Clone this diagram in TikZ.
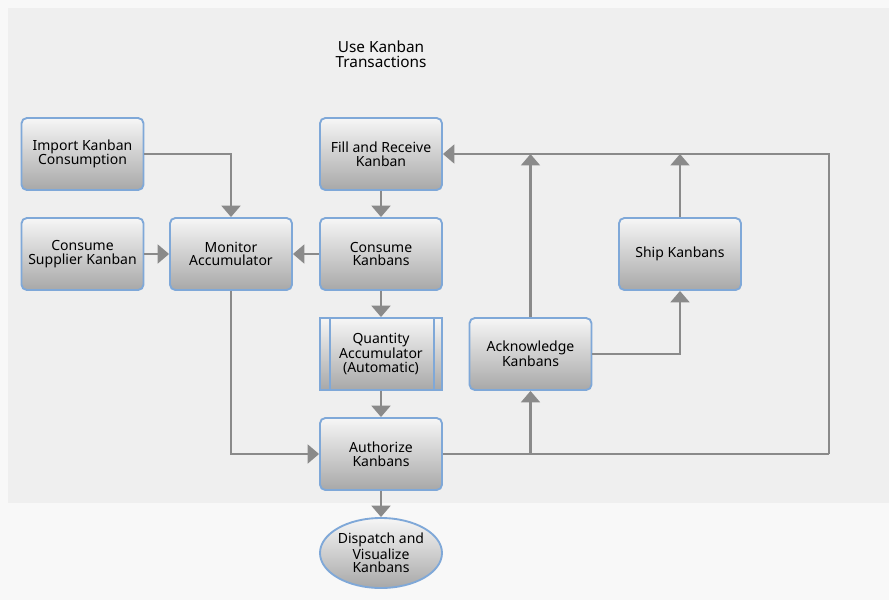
\documentclass[tikz,border=0pt]{standalone}
\usepackage{fontspec}
\setmainfont{Noto Sans}
\usetikzlibrary{arrows.meta,shapes.geometric,calc}
\definecolor{bgout}{HTML}{F8F8F8}
\definecolor{bgin}{HTML}{EFEFEF}
\definecolor{edgecol}{HTML}{7FA8D8}
\definecolor{conncol}{HTML}{8A8A8A}
\definecolor{topc}{HTML}{F6F6F6}
\definecolor{botc}{HTML}{A8A8A8}
\tikzset{
  box/.style={draw=edgecol, line width=1.4pt, rounded corners=4pt,
    top color=topc, bottom color=botc, minimum width=91.5pt, minimum height=54pt,
    align=center, inner sep=0pt, font=\fontsize{10.5}{10.3}\selectfont},
  procbox/.style={box, rounded corners=0pt},
  endbox/.style={draw=edgecol, line width=1.4pt, ellipse,
    top color=topc, bottom color=botc, minimum width=91.5pt, minimum height=52.5pt,
    align=center, inner sep=0pt, font=\fontsize{10.5}{10.3}\selectfont},
  conn/.style={draw=conncol, line width=1.9pt, -{Triangle[width=14pt,length=8.5pt]}},
  plainconn/.style={draw=conncol, line width=1.9pt},
  titletext/.style={align=center, font=\fontsize{11.5}{11}\selectfont}
}
\begin{document}
\begin{tikzpicture}[x=0.75pt,y=-0.75pt]
\useasboundingbox (0,0) rectangle (889,600);
\fill[bgout] (0,0) rectangle (889,600);
\fill[bgin] (8,8) rectangle (889,503);

\node[titletext] (title) at (381,54) {Use Kanban\\Transactions};

\node[box] (imp) at (82.5,154) {Import Kanban\\Consumption};
\node[box] (csup) at (82.5,254) {Consume\\Supplier Kanban};
\node[box] (mon) at (231,254) {Monitor\\Accumulator};
\node[box] (fill) at (381,154) {Fill and Receive\\Kanban};
\node[box] (cons) at (381,254) {Consume\\Kanbans};
\node[procbox] (qty) at (381,354) {Quantity\\Accumulator\\(Automatic)};
\draw[edgecol, line width=1.4pt] ([xshift=8.5pt]qty.north west) -- ([xshift=8.5pt]qty.south west);
\draw[edgecol, line width=1.4pt] ([xshift=-7pt]qty.north east) -- ([xshift=-7pt]qty.south east);
\node[box] (auth) at (381,454) {Authorize\\Kanbans};
\node[endbox] (disp) at (381,553) {Dispatch and\\Visualize\\Kanbans};
\node[box] (ack) at (530.5,354) {Acknowledge\\Kanbans};
\node[box] (ship) at (680,254) {Ship Kanbans};

\coordinate (j1) at (530.5,154);
\coordinate (j2) at (680,154);
\coordinate (rc) at (829,454);

\draw[conn] (imp.east) -| (mon.north);
\draw[conn] (csup) -- (mon);
\draw[conn] (cons) -- (mon);
\draw[conn] (fill) -- (cons);
\draw[conn] (cons) -- (qty);
\draw[conn] (qty) -- (auth);
\draw[conn] (auth) -- (disp);
\draw[conn] (mon.south) |- (auth.west);
\draw[conn] (auth.east) -| (ack.south);
\draw[plainconn] (auth.east) -- (rc);
\draw[conn] (rc) |- (fill.east);
\draw[conn] (ack.north) -- (j1);
\draw[conn] (ship.north) -- (j2);
\draw[conn] (ack.east) -| (ship.south);
\end{tikzpicture}
\end{document}
